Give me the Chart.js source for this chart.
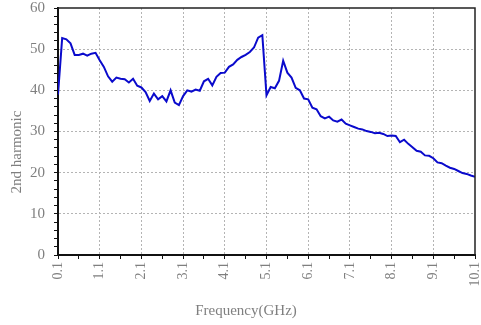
<!DOCTYPE html>
<html>
<head>
<meta charset="utf-8">
<script src="https://cdn.jsdelivr.net/npm/chart.js@4/dist/chart.umd.min.js"></script>
<style>
  html, body { margin: 0; padding: 0; background: #ffffff; }
  #wrap { width: 481px; height: 325px; position: relative; }
</style>
</head>
<body>
<div id="wrap"><canvas id="c"></canvas></div>
<script>
// Frequency sweep (GHz)
const freqGHz = [
  0.1, 0.2, 0.3, 0.4, 0.5, 0.6, 0.7, 0.8, 0.9, 1.0,
  1.1, 1.2, 1.3, 1.4, 1.5, 1.6, 1.7, 1.8, 1.9, 2.0,
  2.1, 2.2, 2.3, 2.4, 2.5, 2.6, 2.7, 2.8, 2.9, 3.0,
  3.1, 3.2, 3.3, 3.4, 3.5, 3.6, 3.7, 3.8, 3.9, 4.0,
  4.1, 4.2, 4.3, 4.4, 4.5, 4.6, 4.7, 4.8, 4.9, 5.0,
  5.1, 5.2, 5.3, 5.4, 5.5, 5.6, 5.7, 5.8, 5.9, 6.0,
  6.1, 6.2, 6.3, 6.4, 6.5, 6.6, 6.7, 6.8, 6.9, 7.0,
  7.1, 7.2, 7.3, 7.4, 7.5, 7.6, 7.7, 7.8, 7.9, 8.0,
  8.1, 8.2, 8.3, 8.4, 8.5, 8.6, 8.7, 8.8, 8.9, 9.0,
  9.1, 9.2, 9.3, 9.4, 9.5, 9.6, 9.7, 9.8, 9.9, 10.0,
  10.1
];

// 2nd harmonic level at each frequency
const secondHarmonic = [
  39.0, 52.7, 52.4, 51.4, 48.6, 48.6, 48.9, 48.4, 48.9, 49.1,
  47.3, 45.7, 43.4, 42.1, 43.1, 42.8, 42.7, 41.9, 42.8, 41.1,
  40.7, 39.6, 37.4, 39.2, 37.8, 38.6, 37.3, 40.0, 37.0, 36.4,
  38.6, 40.0, 39.7, 40.2, 39.9, 42.2, 42.8, 41.2, 43.3, 44.2,
  44.3, 45.7, 46.3, 47.4, 48.1, 48.6, 49.3, 50.4, 52.8, 53.4,
  38.8, 40.8, 40.5, 42.3, 47.2, 44.3, 43.1, 40.6, 40.0, 38.0,
  37.8, 35.8, 35.4, 33.7, 33.2, 33.6, 32.7, 32.4, 32.9, 31.9,
  31.5, 31.1, 30.7, 30.5, 30.1, 29.9, 29.6, 29.7, 29.4, 28.9,
  29.0, 28.9, 27.4, 28.0, 27.0, 26.2, 25.3, 25.1, 24.2, 24.1,
  23.5, 22.5, 22.3, 21.7, 21.2, 20.9, 20.4, 19.9, 19.7, 19.3,
  19.0
];

// Axis ticks: labelled majors plus unlabelled minors in between
const xMajorTicks = [0.1, 1.1, 2.1, 3.1, 4.1, 5.1, 6.1, 7.1, 8.1, 9.1, 10.1];
const xMajorLabels = ['0.1', '1.1', '2.1', '3.1', '4.1', '5.1', '6.1', '7.1', '8.1', '9.1', '10.1'];
const xMinorTicks = [0.6, 1.6, 2.6, 3.6, 4.6, 5.6, 6.6, 7.6, 8.6, 9.6];
const yMajorTicks = [0, 10, 20, 30, 40, 50, 60];
const yMinorTicks = [2, 4, 6, 8, 12, 14, 16, 18, 22, 24, 26, 28, 32, 34, 36, 38, 42, 44, 46, 48, 52, 54, 56, 58];

const xTitle = 'Frequency(GHz)';
const yTitle = '2nd harmonic';

const FONT = '"Liberation Serif", "Times New Roman", serif';
const TEXT_GRAY = '#7f7f7f';
const GRID_GRAY = '#b4b4b4';

function gridColor(ctx, majors, lo, hi) {
  const v = ctx.tick ? Math.round(ctx.tick.value * 100) / 100 : null;
  if (v === null) return 'transparent';
  if (v === lo || v === hi) return 'transparent';
  return majors.some(m => Math.abs(m - v) < 1e-6) ? GRID_GRAY : 'transparent';
}

// Frame on the top and right sides plus the two axis titles
const framePlugin = {
  id: 'frame',
  afterDraw(chart) {
    const { ctx, chartArea: a } = chart;
    ctx.save();
    ctx.strokeStyle = '#222222';
    ctx.lineWidth = 1.5;
    ctx.beginPath();
    ctx.moveTo(a.left, a.top);
    ctx.lineTo(a.right, a.top);
    ctx.lineTo(a.right, a.bottom);
    ctx.stroke();

    ctx.fillStyle = TEXT_GRAY;
    ctx.font = '15px ' + FONT;
    ctx.textAlign = 'center';
    ctx.textBaseline = 'middle';
    ctx.fillText(xTitle, 246, 311);

    ctx.translate(17, 152);
    ctx.rotate(-Math.PI / 2);
    ctx.fillText(yTitle, 0, 0);
    ctx.restore();
  }
};

new Chart(document.getElementById('c'), {
  type: 'line',
  data: {
    datasets: [{
      data: freqGHz.map((f, i) => ({ x: f, y: secondHarmonic[i] })),
      borderColor: '#0a0acc',
      borderWidth: 2,
      pointRadius: 0,
      tension: 0,
      fill: false
    }]
  },
  options: {
    responsive: true,
    maintainAspectRatio: false,
    animation: false,
    events: [],
    layout: { padding: { top: 8, right: 6, left: 0, bottom: 0 } },
    plugins: {
      legend: { display: false },
      tooltip: { enabled: false }
    },
    scales: {
      x: {
        type: 'linear',
        min: 0.1,
        max: 10.1,
        afterBuildTicks(scale) {
          const vals = xMajorTicks.concat(xMinorTicks).sort((a, b) => a - b);
          scale.ticks = vals.map(v => ({ value: v }));
        },
        afterFit(scale) {
          scale.height = 70;
          scale.paddingLeft = 0;
          scale.paddingRight = 0;
        },
        ticks: {
          autoSkip: false,
          minRotation: 90,
          maxRotation: 90,
          padding: 3,
          color: TEXT_GRAY,
          font: { family: FONT, size: 14 },
          callback(value) {
            const i = xMajorTicks.findIndex(m => Math.abs(m - value) < 1e-6);
            return i >= 0 ? xMajorLabels[i] : '';
          }
        },
        grid: {
          drawOnChartArea: true,
          drawTicks: true,
          tickLength: 4,
          tickColor: '#111111',
          tickWidth: 1,
          lineWidth: 1,
          color: ctx => gridColor(ctx, xMajorTicks, 0.1, 10.1)
        },
        border: { display: true, color: '#111111', width: 2, dash: [2, 2] }
      },
      y: {
        min: 0,
        max: 60,
        afterBuildTicks(scale) {
          const vals = yMajorTicks.concat(yMinorTicks).sort((a, b) => a - b);
          scale.ticks = vals.map(v => ({ value: v }));
        },
        afterFit(scale) {
          scale.width = 58;
          scale.paddingTop = 0;
          scale.paddingBottom = 0;
        },
        ticks: {
          autoSkip: false,
          padding: 9,
          color: TEXT_GRAY,
          font: { family: FONT, size: 15 },
          callback(value) {
            return yMajorTicks.includes(value) ? String(value) : '';
          }
        },
        grid: {
          drawOnChartArea: true,
          drawTicks: true,
          tickLength: 4,
          tickColor: '#111111',
          tickWidth: 1,
          lineWidth: 1,
          color: ctx => gridColor(ctx, yMajorTicks, 0, 60)
        },
        border: { display: true, color: '#111111', width: 2, dash: [2, 2] }
      }
    }
  },
  plugins: [framePlugin]
});
</script>
</body>
</html>
